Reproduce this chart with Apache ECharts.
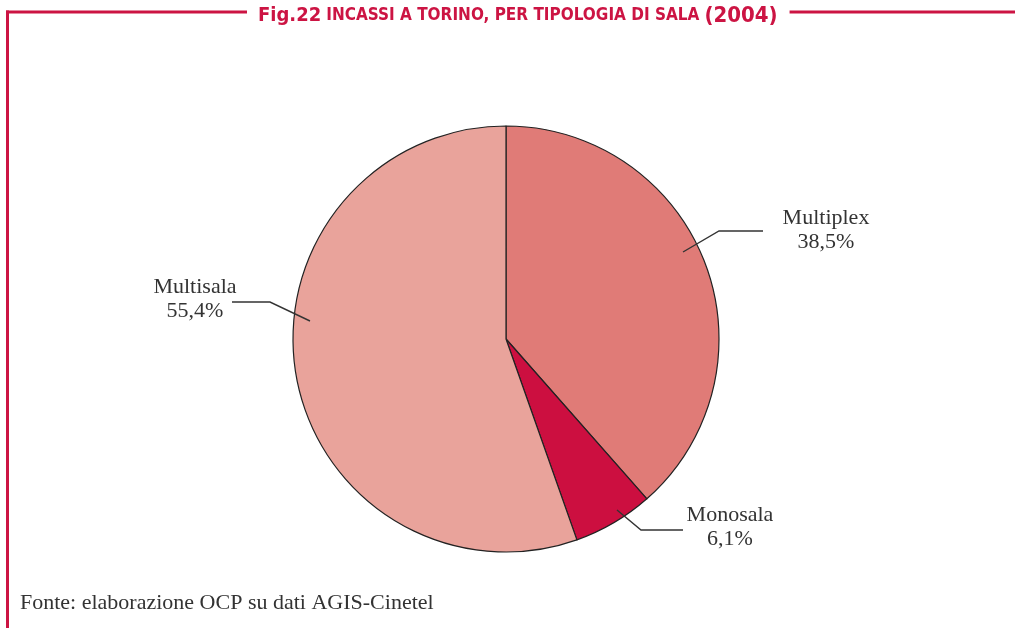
<!DOCTYPE html>
<html>
<head>
<meta charset="utf-8">
<script src="https://cdn.jsdelivr.net/npm/echarts@6/dist/echarts.min.js"></script>
<style>
html,body{margin:0;padding:0;background:#fff;}
#chart{width:1015px;height:628px;}
</style>
</head>
<body>
<div id="chart"></div>
<script>
// ---- data ----
const categories = ['Multiplex', 'Monosala', 'Multisala'];
const values = [38.5, 6.1, 55.4];
const valueLabels = ['38,5%', '6,1%', '55,4%'];
const sliceColors = ['#e07b77', '#cc0f40', '#e9a39b'];
const titleMain = 'Fig.22';
const titleSub = 'INCASSI A TORINO, PER TIPOLOGIA DI SALA';
const titleYear = '(2004)';
const sourceText = 'Fonte: elaborazione OCP su dati AGIS-Cinetel';

// ---- label placement (annotation layout) ----
const labelPos = [
  { x: 826, y: 230, line: [[683, 252], [719, 231], [763, 231]] },
  { x: 730, y: 527, line: [[617, 510], [641, 530], [683, 530]] },
  { x: 195, y: 299, line: [[310, 321], [270, 302], [232, 302]] }
];

const RED = '#cc1443';
const serif = '"Liberation Serif", "DejaVu Serif", serif';
const sans = '"DejaVu Sans Condensed", "DejaVu Sans", sans-serif';

const chart = echarts.init(document.getElementById('chart'), null, { renderer: 'canvas' });

const pieData = categories.map((c, i) => ({ name: c, value: values[i], itemStyle: { color: sliceColors[i] } }));

const option = {
  animation: false,
  backgroundColor: '#fff',
  title: {
    text: '{a|' + titleMain + '} {b|' + titleSub + '} {c|' + titleYear + '}',
    left: 247,
    top: 1,
    backgroundColor: '#fff',
    padding: [1, 12, 1, 11],
    z: 10,
    textStyle: {
      rich: {
        a: { fontFamily: sans, fontWeight: 'bold', fontSize: 20, color: RED, lineHeight: 28 },
        b: { fontFamily: sans, fontWeight: 'bold', fontSize: 17, color: RED, lineHeight: 28 },
        c: { fontFamily: sans, fontWeight: 'bold', fontSize: 22, color: RED, lineHeight: 28 }
      }
    }
  },
  graphic: [
    { type: 'line', z: 1, shape: { x1: 6, y1: 12, x2: 1015, y2: 12 }, style: { stroke: RED, lineWidth: 3 } },
    { type: 'line', z: 1, shape: { x1: 7.5, y1: 10.5, x2: 7.5, y2: 628 }, style: { stroke: RED, lineWidth: 3 } },
    { type: 'text', z: 5, left: 20, top: 592, style: { text: sourceText, font: '22px ' + serif, fill: '#333' } }
  ],
  series: [
    {
      type: 'pie',
      z: 2,
      center: [506, 339],
      radius: 213,
      startAngle: 90,
      clockwise: true,
      silent: true,
      itemStyle: { borderColor: '#222', borderWidth: 1.2 },
      label: { show: false },
      labelLine: { show: false },
      data: pieData
    },
    {
      type: 'pie',
      z: 5,
      center: [506, 339],
      radius: 213,
      startAngle: 90,
      clockwise: true,
      silent: true,
      itemStyle: { color: 'rgba(0,0,0,0)', borderWidth: 0 },
      label: {
        show: true,
        position: 'outside',
        formatter: p => p.name + '\n' + valueLabels[p.dataIndex],
        fontFamily: serif,
        fontSize: 22,
        lineHeight: 24,
        color: '#333',
        align: 'center'
      },
      labelLine: { show: true, lineStyle: { color: '#333', width: 1.4 } },
      labelLayout: function (params) {
        const p = labelPos[params.dataIndex];
        return { x: p.x, y: p.y, align: 'center', verticalAlign: 'middle', labelLinePoints: p.line, hideOverlap: false, moveOverlap: null };
      },
      data: categories.map((c, i) => ({ name: c, value: values[i] }))
    }
  ]
};
chart.setOption(option);
</script>
</body>
</html>
